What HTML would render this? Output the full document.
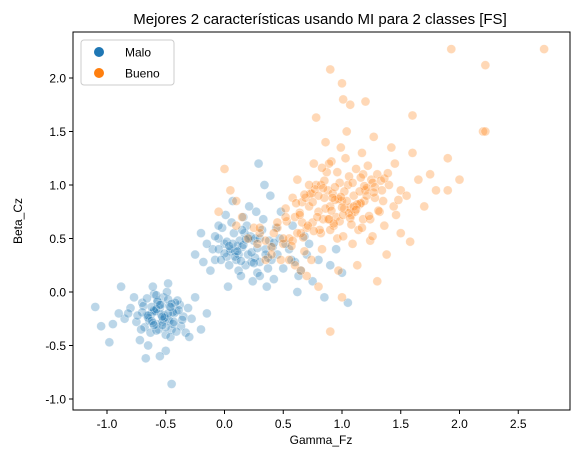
<!DOCTYPE html>
<html><head><meta charset="utf-8"><style>
html,body{margin:0;padding:0;background:#fff;}
svg{display:block;font-family:"Liberation Sans","DejaVu Sans",sans-serif;}
</style></head><body>
<svg id="chart" width="578" height="455">
<text x="320" y="24" text-anchor="middle" font-size="15">Mejores 2 características usando MI para 2 classes [FS]</text>
<g id="marks"></g>
<rect x="73" y="32" width="497" height="378" fill="none" stroke="#000" stroke-width="1"/>
<g id="axes"></g>
<text x="321" y="444" text-anchor="middle" font-size="12">Gamma_Fz</text>
<text transform="translate(22,221) rotate(-90)" text-anchor="middle" font-size="12">Beta_Cz</text>
<g>
<rect x="81" y="40" width="93" height="45" rx="3" fill="#fff" fill-opacity="0.8" stroke="#ccc"/>
<g><circle cx="99" cy="52" r="5" fill="#1f77b4"/><text x="125" y="56.5" font-size="12">Malo</text></g>
<g><circle cx="99" cy="73" r="5" fill="#ff7f0e"/><text x="125" y="77.5" font-size="12">Bueno</text></g>
</g>
</svg>
<script>
const xTicks=[-1.0,-0.5,0.0,0.5,1.0,1.5,2.0,2.5];
const yTicks=[-1.0,-0.5,0.0,0.5,1.0,1.5,2.0];
const maloX=[-0.62,-0.55,-0.48,-0.70,-0.41,-0.58,-0.66,-0.52,-0.45,-0.38,-0.75,-0.60,-0.50,-0.43,-0.68,-0.57,-0.47,-0.35,-0.80,-0.63,-0.54,-0.49,-0.72,-0.59,-0.44,-0.31,-0.85,-0.65,-0.51,-0.40,-0.56,-0.61,-0.46,-0.53,-0.69,-0.37,-0.90,-0.28,-0.77,-0.42,-0.64,-0.50,-0.58,-0.33,-0.95,-0.25,-0.71,-0.48,-0.60,-0.55,-1.10,-1.05,-0.98,-0.20,-0.15,-0.88,-0.82,-0.30,-0.67,-0.45,
-0.60,-0.52,-0.47,-0.65,-0.57,-0.43,-0.50,-0.62,-0.54,-0.39,-0.70,-0.58,-0.48,-0.36,-0.66,-0.53,-0.45,-0.74,-0.61,-0.41,
0.00,0.05,-0.05,0.10,0.15,0.20,0.25,-0.10,0.30,0.08,0.12,0.02,-0.02,0.18,0.22,0.35,0.40,0.28,-0.15,0.45,0.06,0.14,0.32,0.04,0.24,-0.08,0.38,0.50,0.16,0.26,0.55,0.11,-0.20,0.42,0.60,0.03,0.19,0.33,0.47,0.09,0.27,0.65,0.13,-0.12,0.36,0.21,0.70,0.01,0.44,0.17,0.30,0.52,-0.25,0.75,0.07,0.23,0.58,0.39,0.80,-0.05,0.90,1.00,0.85,0.62,0.48,0.34,0.95,1.05,0.68,0.29,0.12,0.41,-0.18,0.57,0.26,0.05,0.63,0.37,0.15,0.72,
-0.05,0.02,0.09,0.16,0.23,0.30,0.37,-0.08,0.00,0.07,0.14,0.21,0.28,0.35,0.42,-0.03,0.04,0.11,0.18,0.25,-0.65,-0.58,-0.51,-0.44,-0.62,-0.55,-0.48,-0.60,-0.53,-0.46];
const maloY=[-0.20,-0.15,-0.25,-0.10,-0.18,-0.30,-0.22,-0.05,-0.35,-0.12,-0.28,-0.02,-0.40,-0.20,-0.33,-0.08,-0.27,-0.23,-0.15,-0.38,-0.12,0.00,-0.45,-0.18,-0.30,-0.15,-0.25,-0.50,-0.22,-0.08,-0.35,0.05,-0.42,-0.28,-0.13,-0.32,-0.20,-0.25,-0.05,-0.10,-0.27,-0.55,-0.03,-0.38,-0.30,-0.05,-0.35,0.08,-0.17,-0.60,-0.14,-0.32,-0.47,-0.35,-0.20,0.05,-0.20,-0.42,-0.62,-0.86,
-0.18,-0.26,-0.13,-0.24,-0.09,-0.28,-0.33,-0.14,-0.21,-0.17,-0.19,-0.36,-0.07,-0.26,-0.06,-0.31,-0.11,-0.22,-0.29,-0.37,
0.45,0.38,0.50,0.30,0.42,0.35,0.48,0.40,0.28,0.55,0.20,0.33,0.60,0.25,0.52,0.40,0.30,0.18,0.45,0.35,0.65,0.15,0.58,0.25,0.10,0.30,0.48,0.22,0.70,0.32,0.40,0.43,0.55,0.12,0.28,0.05,0.62,0.68,0.50,0.38,0.75,0.20,0.48,0.20,0.05,0.80,0.35,0.72,0.60,0.55,0.15,0.45,0.35,0.10,0.85,0.28,0.62,0.90,0.30,0.62,0.25,0.18,-0.05,0.00,0.75,1.00,0.40,-0.10,0.52,1.20,0.35,0.42,0.28,0.30,0.50,0.40,0.15,0.22,0.58,0.45,
0.40,0.47,0.33,0.44,0.37,0.50,0.32,0.52,0.36,0.45,0.29,0.50,0.41,0.35,0.46,0.30,0.43,0.38,0.49,0.27,-0.22,-0.16,-0.24,-0.19,-0.27,-0.12,-0.20,-0.31,-0.23,-0.14];
const buenoX=[1.00,0.90,1.10,0.80,1.20,0.95,1.05,0.85,1.15,0.75,1.25,0.70,1.30,0.88,1.02,0.92,1.08,0.98,1.12,0.82,0.60,1.40,0.65,1.35,0.55,1.45,0.50,1.50,0.78,1.18,0.93,1.06,0.87,1.14,0.72,1.28,0.96,1.03,0.84,1.22,0.45,1.55,0.40,1.60,0.35,1.65,0.30,1.70,0.58,1.42,0.68,1.32,0.76,1.24,0.83,1.17,0.91,1.09,0.99,1.01,0.25,1.75,0.20,1.80,0.15,1.90,0.10,2.00,0.05,2.20,1.50,0.62,1.38,0.48,1.27,0.74,1.13,0.86,1.04,0.97,2.72,1.93,2.22,0.78,1.00,1.01,1.07,1.20,1.60,0.90,0.00,-0.05,0.10,0.35,1.00,1.30,0.90,1.58,0.70,0.80,0.52,0.66,0.81,0.94,1.11,1.26,1.36,1.46,1.19,0.89,2.22,1.90,0.97,1.07,0.73,1.16,1.33,0.64,0.88,1.21,
0.62,0.71,0.79,0.86,0.94,1.02,1.09,1.17,1.24,1.31,0.66,0.74,0.82,0.90,0.98,1.06,1.13,1.21,1.28,1.36,0.58,0.69,0.77,0.85,0.93,1.01,1.10,1.18,1.26,1.34,0.64,0.72,0.80,0.89,0.96,1.04,1.12,1.19,1.27,1.44,0.53,0.61,0.68,0.76,0.84,0.91,0.99,1.07,1.16,1.39,0.57,0.67,0.75,0.83,0.92,1.00,1.08,1.15,1.23,1.48,0.40,0.50,0.45,0.55,0.30,0.60,0.65,0.42,0.28,0.52];
const buenoY=[0.85,0.80,0.90,0.75,0.95,0.70,1.00,0.88,0.82,0.65,1.05,0.60,1.10,0.95,0.78,0.92,0.72,1.02,1.15,0.55,0.70,1.00,0.55,0.85,0.50,1.20,0.45,0.95,1.00,0.68,0.62,1.08,1.12,0.58,0.80,0.88,0.50,1.25,0.68,1.18,0.60,0.90,0.42,1.30,0.48,1.05,0.55,0.80,0.88,1.35,0.38,0.75,1.20,0.48,0.40,1.30,1.22,0.45,1.35,0.52,0.60,1.10,0.50,0.95,0.70,1.25,0.85,1.05,0.95,1.50,0.55,1.05,0.35,0.30,1.45,0.30,0.25,1.40,1.50,0.20,2.27,2.27,2.12,1.63,1.95,1.80,1.75,1.78,1.65,2.08,1.15,0.75,0.62,0.30,-0.05,0.10,-0.37,0.47,0.15,0.05,0.78,0.65,0.58,0.98,0.75,1.02,0.62,0.72,0.85,1.20,1.50,0.95,0.87,0.79,0.92,0.83,1.04,0.74,0.68,0.97,
0.55,0.62,0.70,0.78,0.86,0.94,1.02,0.60,0.68,0.76,0.84,0.92,1.00,0.58,0.66,0.74,0.82,0.90,0.98,1.06,0.48,0.88,0.96,1.04,0.64,0.72,0.80,1.10,0.52,0.95,0.72,1.00,0.90,0.68,1.12,0.85,0.77,0.99,0.93,0.80,0.66,0.83,0.91,0.57,0.97,0.76,0.89,0.69,1.07,1.11,0.43,0.51,0.84,1.16,0.88,0.79,0.63,0.94,0.71,0.86,0.35,0.50,0.65,0.30,0.60,0.25,0.20,0.55,0.45,0.70];
const NS="http://www.w3.org/2000/svg";
const xS=v=>224.5+v*117.5;
const yS=v=>292-v*107;
const marks=document.getElementById('marks');
const axes=document.getElementById('axes');
function dot(x,y,c,name){
 const e=document.createElementNS(NS,'circle');
 e.setAttribute('cx',xS(x));e.setAttribute('cy',yS(y));e.setAttribute('r',4.5);
 e.setAttribute('fill',c);e.setAttribute('fill-opacity',0.3);
 e.setAttribute('stroke','#fff');e.setAttribute('stroke-width',0.6);e.setAttribute('stroke-opacity',0.5);
 
 
 marks.appendChild(e);
}
for(let i=0;i<maloX.length;i++)dot(maloX[i],maloY[i],'#1f77b4','point-malo');
for(let i=0;i<buenoX.length;i++)dot(buenoX[i],buenoY[i],'#ff7f0e','point-bueno');
xTicks.forEach(t=>{
 const x=xS(t);
 const l=document.createElementNS(NS,'line');
 l.setAttribute('x1',x);l.setAttribute('x2',x);l.setAttribute('y1',410);l.setAttribute('y2',414);l.setAttribute('stroke','#000');
 
 
 axes.appendChild(l);
 const s=document.createElementNS(NS,'text');
 s.setAttribute('x',x);s.setAttribute('y',428);s.setAttribute('text-anchor','middle');s.setAttribute('font-size','12');
 s.textContent=t.toFixed(1);
 
 
 axes.appendChild(s);
});
yTicks.forEach(t=>{
 const y=yS(t);
 const l=document.createElementNS(NS,'line');
 l.setAttribute('x1',69);l.setAttribute('x2',73);l.setAttribute('y1',y);l.setAttribute('y2',y);l.setAttribute('stroke','#000');
 
 
 axes.appendChild(l);
 const s=document.createElementNS(NS,'text');
 s.setAttribute('x',66);s.setAttribute('y',y+4.5);s.setAttribute('text-anchor','end');s.setAttribute('font-size','12');
 s.textContent=t.toFixed(1);
 
 
 axes.appendChild(s);
});
</script>
</body></html>
